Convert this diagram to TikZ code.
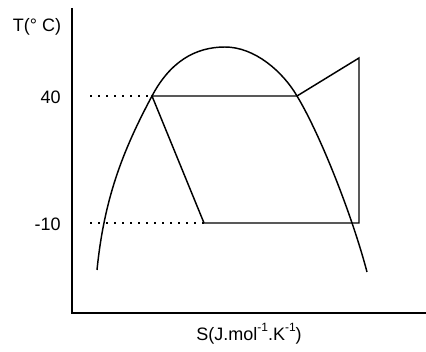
\documentclass[tikz,border=0pt]{standalone}
\usepackage{fontspec}
\setmainfont{Liberation Sans}
\usetikzlibrary{positioning,calc}
\newcommand{\upidx}[1]{\raisebox{1.05ex}{\fontsize{9}{10}\selectfont #1}}
\tikzset{
  axis/.style={line width=1.1pt},
  cycle/.style={line width=1.1pt, line join=miter},
  dome/.style={line width=1.1pt},
  guide/.style={line width=1.2pt, dash pattern=on 1.2pt off 4.8pt},
  lbl/.style={inner sep=0pt, font=\fontsize{13.5}{16}\selectfont}
}

\begin{document}
\begin{tikzpicture}[x=0.75pt, y=-0.75pt]
  \useasboundingbox (0,0) rectangle (426,352);
  % axes
  \coordinate (top) at (72,8);
  \coordinate (org) at (72,313);
  \coordinate (right) at (426,313);
  \draw[axis] (top) -- (org) -- (right);
  \node[lbl] (tlab) at (37,27) {T(° C)};
  \node[lbl, anchor=east] (t40) at (61,97) {40};
  \node[lbl, anchor=east] (tm10) at (61,224) {-10};
  \node[lbl, anchor=base] (slab) at (249,341) {S(J.mol\upidx{-1}.K\upidx{-1})};
  % saturation dome
  \coordinate (foot1) at (97,270);
  \coordinate (peak) at (225,47);
  \coordinate (foot2) at (367,272);
  \coordinate (a) at (152,96);
  \coordinate (b) at (297,96);
  \draw[dome] (foot1) .. controls (104,200) and (122,152) .. (a)
    .. controls (170,62) and (195,47) .. (peak)
    .. controls (255,47) and (283,72) .. (b)
    .. controls (320,134) and (352,215) .. (foot2);
  % cycle
  \coordinate (c) at (359,58);
  \coordinate (d) at (359,223);
  \coordinate (e) at (204,223);
  \draw[cycle] (a) -- (b) -- (c) -- (d) -- (e) -- cycle;
  % guides
  \coordinate (g40) at (90,96);
  \coordinate (gm10) at (90,223);
  \draw[guide] (g40) -- (a);
  \draw[guide] (gm10) -- (e);
\end{tikzpicture}
\end{document}
